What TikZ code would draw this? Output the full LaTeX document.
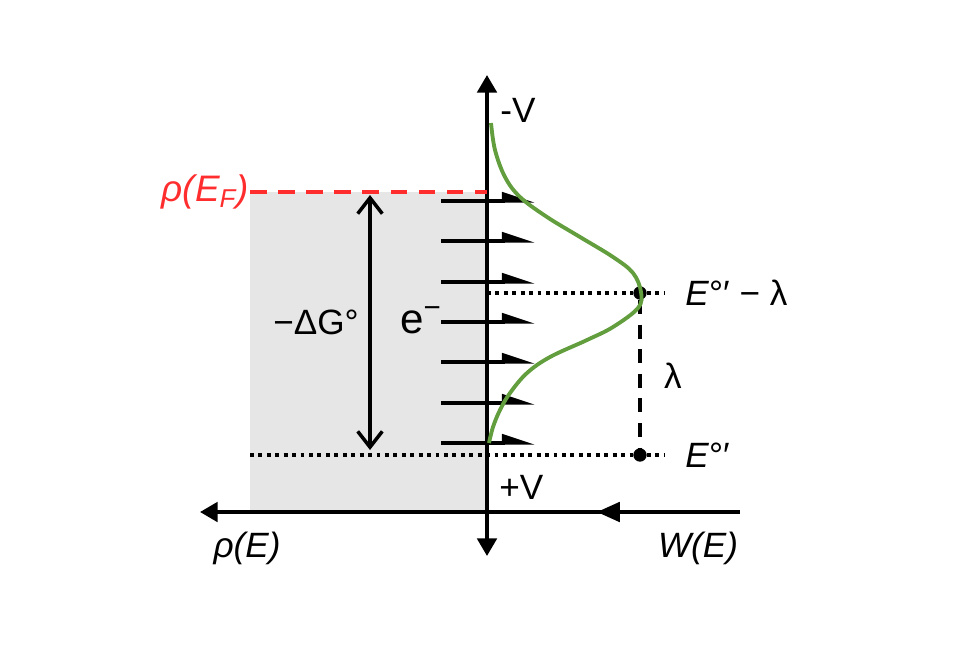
\documentclass[tikz,border=0pt]{standalone}
\usepackage{fontspec}
\setmainfont{Liberation Sans}
\usetikzlibrary{arrows.meta,decorations.markings}
\definecolor{curvegreen}{RGB}{98,158,62}
\definecolor{fermired}{RGB}{255,45,45}
\definecolor{bandgray}{RGB}{230,230,230}

\begin{document}
\begin{tikzpicture}[x=0.02cm, y=-0.02cm,
  axis/.style={line width=2.2pt},
  lbl/.style={font=\fontsize{20}{24}\selectfont, inner sep=0pt},
  level/.style={line width=1.8pt, -{Triangle[left,length=16pt,width=10pt]}},
  dots/.style={line width=2.2pt, dash pattern=on 2.2pt off 2.6pt},
  dosc/.style={circle, fill=black, inner sep=0pt, minimum size=7.6pt}]
\useasboundingbox (0,0) rectangle (973,670);
\fill[bandgray] (250,192) rectangle (487,512);

\coordinate (vtop) at (487,75);
\coordinate (vbot) at (487,556);
\coordinate (hright) at (740,512);
\coordinate (hleft) at (200,512);
\coordinate (efL) at (250,192);
\coordinate (efR) at (487,192);
\coordinate (e0L) at (250,455);
\coordinate (e0R) at (665,455);
\coordinate (elR) at (665,293);
\coordinate (dgTop) at (370,195);
\coordinate (dgBot) at (370,450);

\draw[axis, {Triangle[length=10pt,width=11pt]}-{Triangle[length=10pt,width=11pt]}] (vbot) -- (vtop);
\draw[axis, -{Triangle[length=10pt,width=11pt]}, postaction={decorate},
  decoration={markings, mark=at position 0.265 with {\arrow{Triangle[length=13pt,width=11pt]}}}] (hright) -- (hleft);

\draw[fermired, line width=2.4pt, dash pattern=on 9.5pt off 6.5pt] (efL) -- (efR);
\node[lbl, text=fermired, anchor=east, font=\fontsize{21}{25}\selectfont] (rhoEF) at (249,192) {\textit{ρ(E\textsubscript{F})}};

\draw[line width=2pt, {Straight Barb[length=9pt,width=14pt]}-{Straight Barb[length=9pt,width=14pt]}] (dgBot) -- (dgTop);

\foreach \y [count=\i] in {201,241,282,322,362,403,443} {
  \coordinate (lvlL\i) at (441,\y);
  \coordinate (lvlR\i) at (535,\y);
  \draw[level] (lvlL\i) -- (lvlR\i);
}

\node[dosc] (peak) at (640,293) {};
\node[dosc] (redox) at (640,455) {};
\draw[dots] (efR |- peak) -- (peak) -- (elR);
\draw[dots] (e0L) -- (redox) -- (e0R);
\draw[line width=2pt, dash pattern=on 8pt off 6pt] (peak) -- (redox);

\draw[curvegreen, line width=2.2pt] plot[smooth, tension=0.6] coordinates {
  (491,123) (495,150) (505,177) (520,197) (547,217) (580,237) (613,257)
  (633,273) (641,292) (638,308) (613,327) (587,340) (550,357) (527,373)
  (510,393) (500,410) (493,427) (489,443)};

\node[lbl, anchor=west] (minusV) at (500,110) {-V};
\node[lbl, anchor=west] (plusV) at (499,487) {+V};
\node[lbl] (rhoE) at (247,548) {\textit{ρ(E)}};
\node[lbl] (WE) at (698,548) {\textit{W(E)}};
\node[lbl] (dG) at (316,322) {−ΔG°};
\node[lbl, font=\fontsize{24}{28}\selectfont] (elec) at (421,320) {e\textsuperscript{−}};
\node[lbl, anchor=west] (Elam) at (685,293) {\textit{E}°′ − λ};
\node[lbl, anchor=west] (E0) at (685,455) {\textit{E}°′};
\node[lbl] (lam) at (673,376) {λ};
\end{tikzpicture}
\end{document}
